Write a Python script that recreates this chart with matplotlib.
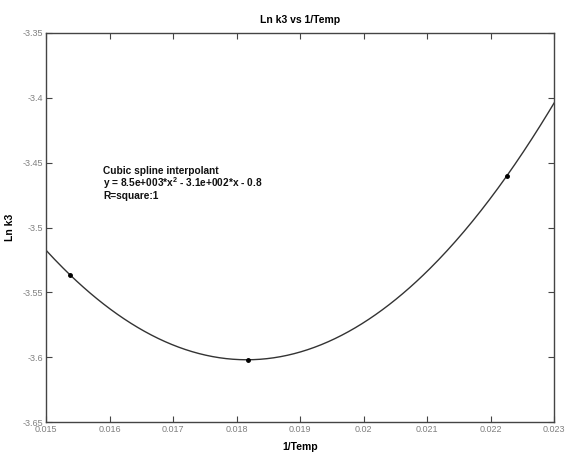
import numpy as np
import matplotlib
matplotlib.use('Agg')
from matplotlib import pyplot as plt
from matplotlib.ticker import FuncFormatter

#=======================================
# Data
#=======================================
inv_temp = [0.01538, 0.01818, 0.02226]   # 1/Temp
ln_k3 = [-3.5366, -3.602, -3.460]        # Ln k3

x_ticks = [0.015, 0.016, 0.017, 0.018, 0.019, 0.02, 0.021, 0.022, 0.023]
y_ticks = [-3.65, -3.6, -3.55, -3.5, -3.45, -3.4, -3.35]

fit_text = ['Cubic spline interpolant',
            'y = 8.5e+003*x$^{2}$ - 3.1e+002*x - 0.8',
            'R=square:1']

#=======================================
# Spline through the three points (not-a-knot -> parabola)
#=======================================
coef = np.polyfit(inv_temp, ln_k3, len(inv_temp) - 1)
xs = np.linspace(x_ticks[0], x_ticks[-1], 300)
ys = np.polyval(coef, xs)

#=======================================
# Plot
#=======================================
plt.rcParams['font.family'] = ['Liberation Sans', 'DejaVu Sans']
plt.rcParams['mathtext.fontset'] = 'custom'
plt.rcParams['mathtext.rm'] = 'Liberation Sans:bold'

fig = plt.figure(figsize=(5.66, 4.53), dpi=100)
ax = fig.add_axes([46/566, 31/453, 508/566, 389/453])

ax.plot(xs, ys, color='#333333', lw=1.0)
ax.plot(inv_temp, ln_k3, '.', color='black', markersize=5)

ax.set_xlim(x_ticks[0], x_ticks[-1])
ax.set_ylim(y_ticks[0], y_ticks[-1])
ax.set_xticks(x_ticks)
ax.set_yticks(y_ticks)
fmt = FuncFormatter(lambda v, p: '%g' % v)
ax.xaxis.set_major_formatter(fmt)
ax.yaxis.set_major_formatter(fmt)
ax.tick_params(direction='in', length=4, width=0.8, color='#444444',
               top=True, right=True, labelsize=6.5, labelcolor='#808080', pad=2)
for s in ax.spines.values():
    s.set_color('#444444')
    s.set_linewidth(1.0)

ax.set_title('Ln k3 vs 1/Temp', fontsize=7.5, fontweight='bold', pad=7)
ax.set_xlabel('1/Temp', fontsize=7.5, fontweight='bold', labelpad=6)
ax.set_ylabel('Ln k3', fontsize=7.5, fontweight='bold')
ax.yaxis.set_label_coords(-0.061, 0.5)

ax.text(0.0159, -3.4525, '\n'.join(fit_text), fontsize=7.3, fontweight='bold',
        va='top', ha='left', linespacing=0.95, color='#111111')

fig.savefig('out.png', dpi=100)
